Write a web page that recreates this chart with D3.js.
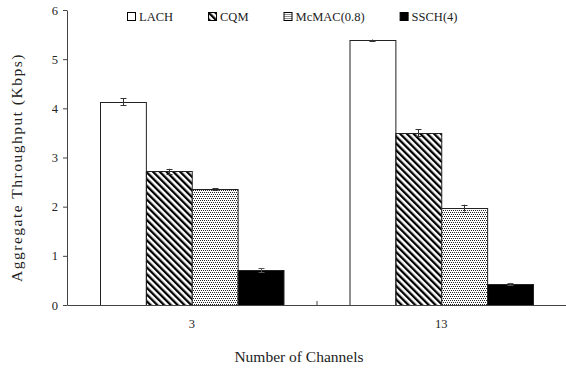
<!DOCTYPE html>
<html>
<head>
<meta charset="utf-8">
<script src="https://cdn.jsdelivr.net/npm/d3@7"></script>
<style>
  html, body { margin: 0; padding: 0; background: #fff; }
  svg { display: block; }
  svg text { font-family: "Liberation Serif", "Times New Roman", serif; }
</style>
</head>
<body>
<svg id="chart" width="566" height="369"></svg>
<script>
// Channel counts on the x axis
const channels = ["3", "13"];
// Protocols compared
const series = ["LACH", "CQM", "McMAC(0.8)", "SSCH(4)"];
// Aggregate throughput (Kbps), one array per protocol, ordered as channels
const lach  = [4.13, 5.38];
const cqm   = [2.72, 3.50];
const mcmac = [2.36, 1.97];
const ssch  = [0.71, 0.43];
// Error bar half-widths (Kbps)
const lachErr  = [0.07, 0.02];
const cqmErr   = [0.05, 0.07];
const mcmacErr = [0.02, 0.07];
const sschErr  = [0.04, 0.02];
// Y tick values
const yTicks = [0, 1, 2, 3, 4, 5, 6];

const values = [lach, cqm, mcmac, ssch];
const errors = [lachErr, cqmErr, mcmacErr, sschErr];

const FONT = "Liberation Serif";
const svg = d3.select("#chart");
const margin = { left: 67, right: 0, top: 10, bottom: 64 };
const W = 566, H = 369;

const defs = svg.append("defs");
// diagonal hatch for CQM
defs.append("pattern")
  .attr("id", "hatch")
  .attr("patternUnits", "userSpaceOnUse")
  .attr("width", 4.8).attr("height", 4.8)
  .attr("patternTransform", "rotate(-45)")
  .append("rect")
  .attr("x", 0).attr("y", 0).attr("width", 2.3).attr("height", 4.8)
  .attr("fill", "#000");
// fine stipple for McMAC: staggered 1px dots on a 4x4 tile
const dots = defs.append("pattern")
  .attr("id", "dots")
  .attr("patternUnits", "userSpaceOnUse")
  .attr("width", 4).attr("height", 4);
dots.append("rect").attr("width", 4).attr("height", 4).attr("fill", "#fff")
  .attr("shape-rendering", "crispEdges");
[[0, 0], [2, 0], [1, 2], [3, 2], [0, 1], [2, 3]].slice(0, 4).forEach(([dx, dy]) => {
  dots.append("rect").attr("x", dx).attr("y", dy).attr("width", 1).attr("height", 1)
    .attr("fill", "#222").attr("shape-rendering", "crispEdges");
});

const fills = ["#fff", "url(#hatch)", "url(#dots)", "#000"];

const y = d3.scaleLinear().domain([0, 6]).range([H - margin.bottom, margin.top]);
const x0 = d3.scaleBand().domain(channels).range([margin.left, W - margin.right]).padding(0);
const x1 = d3.scaleBand().domain(series).range([33, x0.bandwidth() - 33]).padding(0);

// bars, drawn flat in root coordinates
const barData = [];
channels.forEach((ch, ci) => series.forEach((s, si) => {
  barData.push({ ch, s, si, v: values[si][ci], e: errors[si][ci] });
}));
const bx = d => x0(d.ch) + x1(d.s);

svg.append("g").selectAll("rect")
  .data(barData)
  .join("rect")
  .attr("x", d => bx(d) + 0.5)
  .attr("y", d => Math.round(y(d.v)) + 0.5)
  .attr("width", x1.bandwidth())
  .attr("height", d => Math.round(y(0)) - Math.round(y(d.v)))
  .attr("fill", d => fills[d.si])
  .attr("stroke", "#222")
  .attr("stroke-width", 1);

// error bars
const eb = svg.append("g").selectAll("g")
  .data(barData)
  .join("g")
  .attr("stroke", d => d.si === 3 ? "#555" : "#333")
  .attr("stroke-width", 1);
const cx = d => Math.round(bx(d) + x1.bandwidth() / 2) + 0.5;
eb.append("line").attr("x1", cx).attr("x2", cx)
  .attr("y1", d => y(d.v + d.e)).attr("y2", d => y(d.v - d.e));
eb.append("line").attr("x1", d => cx(d) - 3).attr("x2", d => cx(d) + 3)
  .attr("y1", d => Math.round(y(d.v + d.e)) + 0.5).attr("y2", d => Math.round(y(d.v + d.e)) + 0.5);
eb.append("line").attr("x1", d => cx(d) - 3).attr("x2", d => cx(d) + 3)
  .attr("y1", d => Math.round(y(d.v - d.e)) + 0.5).attr("y2", d => Math.round(y(d.v - d.e)) + 0.5);

// y axis
const yAxis = svg.append("g")
  .attr("transform", `translate(${margin.left},0)`)
  .call(d3.axisLeft(y).tickValues(yTicks).tickSize(4).tickSizeOuter(0).tickFormat(d3.format("d")));
yAxis.attr("font-family", FONT);
yAxis.select(".domain").attr("stroke", "#444");
yAxis.selectAll(".tick line").attr("stroke", "#444");
yAxis.selectAll(".tick text").attr("font-size", 12.5).attr("font-family", FONT).attr("fill", "#222").attr("x", -9);

// x axis
const xAxis = svg.append("g")
  .attr("transform", `translate(0,${y(0)})`)
  .call(d3.axisBottom(x0).tickSize(0).tickSizeOuter(0));
xAxis.attr("font-family", FONT);
xAxis.select(".domain").attr("stroke", "#444");
xAxis.selectAll(".tick text").attr("font-size", 12.5).attr("font-family", FONT).attr("fill", "#222").attr("dy", "1.6em");
// separator tick between channel groups
svg.append("line")
  .attr("x1", x0("13") + 0.5).attr("x2", x0("13") + 0.5)
  .attr("y1", y(0)).attr("y2", y(0) - 4)
  .attr("stroke", "#444");

// axis titles
svg.append("text")
  .attr("transform", `translate(22,${(y(0) + y(6)) / 2 + 10}) rotate(-90)`)
  .attr("text-anchor", "middle")
  .attr("font-family", FONT)
  .attr("font-size", 15.5)
  .attr("letter-spacing", 1.5)
  .attr("fill", "#222")
  .text("Aggregate Throughput (Kbps)");

svg.append("text")
  .attr("x", 299).attr("y", 362)
  .attr("text-anchor", "middle")
  .attr("font-family", FONT)
  .attr("font-size", 15.5)
  .attr("fill", "#222")
  .text("Number of Channels");

// legend
const legend = svg.append("g").attr("transform", "translate(127,0)");
let lx = 0;
series.forEach((s, si) => {
  const item = legend.append("g").attr("transform", `translate(${lx},0)`);
  item.append("rect")
    .attr("x", 0.5).attr("y", 12.5).attr("width", 8).attr("height", 8)
    .attr("fill", fills[si]).attr("stroke", "#000").attr("stroke-width", 1);
  const t = item.append("text")
    .attr("x", 12).attr("y", 21)
    .attr("font-family", FONT)
    .attr("font-size", 12.5)
    .attr("fill", "#222")
    .text(s);
  lx += 12 + t.node().getComputedTextLength() + 35;
});
</script>
</body>
</html>
